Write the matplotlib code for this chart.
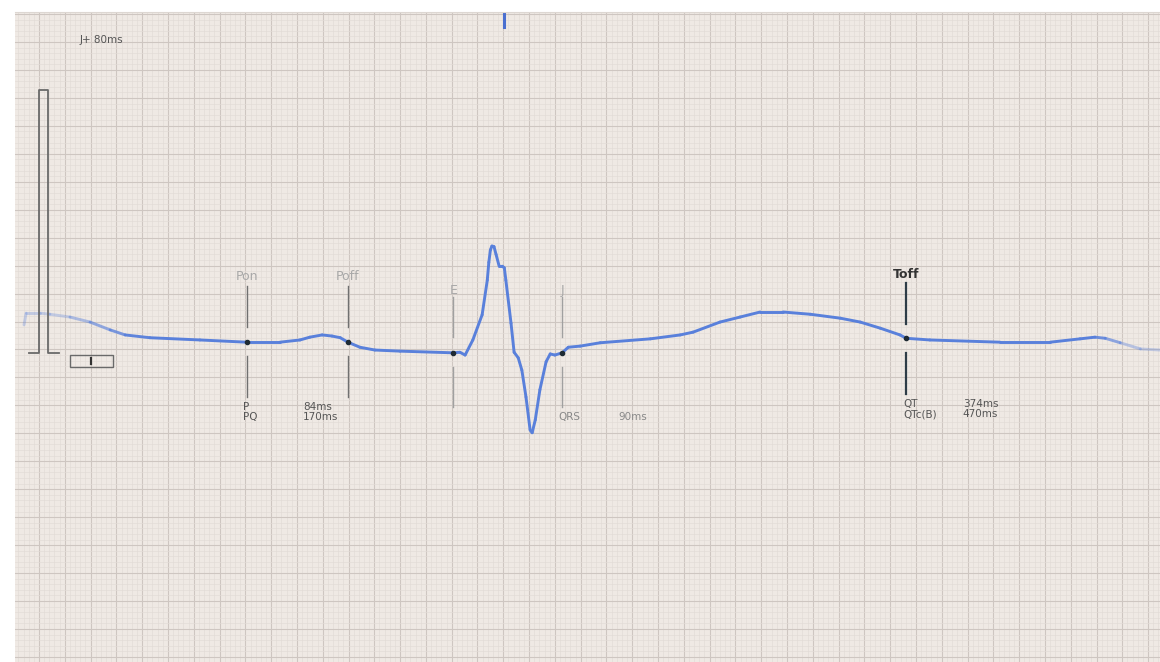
import numpy as np
import matplotlib
matplotlib.use('Agg')
import matplotlib.pyplot as plt
from matplotlib.collections import LineCollection
from matplotlib.ticker import MultipleLocator

plt.rcParams['font.family'] = ['DejaVu Sans']

# ECG trace in grid units (1 small box = 1 mm)
trace_x = [-2.9, -2.5, 0.2, 2.1, 6.0, 9.9, 13.8, 16.7, 21.5, 31.2, 40.3, 46.7, 50.6, 52.5,
           54.9, 56.8, 58.4, 59.9, 62.2, 65.1, 70.0, 80.3, 81.6, 82.6, 84.1, 85.9, 86.9,
           87.2, 87.5, 87.8, 88.2, 88.6, 89.2, 89.8, 90.2, 90.5, 91.5, 92.1, 92.9, 93.6,
           94.4, 95.2, 95.6, 96.2, 97.1, 98.3, 99.1, 100.0, 101.4, 102.6, 104.9, 108.8,
           118.5, 124.3, 126.8, 132.0, 135.9, 139.8, 144.2, 149.5, 155.3, 159.2, 163.1,
           166.9, 168.1, 172.7, 186.3, 196.0, 201.8, 204.7, 206.7, 209.6, 213.5, 217.3]
trace_y = [59.4, 61.5, 61.5, 61.3, 60.8, 59.9, 58.5, 57.6, 57.1, 56.7, 56.3, 56.3, 56.7, 57.2,
           57.6, 57.4, 57.1, 56.3, 55.4, 54.9, 54.7, 54.4, 54.5, 54.0, 56.7, 61.2, 67.4,
           70.6, 72.8, 73.5, 73.4, 72.0, 69.9, 69.9, 69.6, 67.4, 59.7, 54.5, 53.5, 51.3,
           46.5, 40.6, 40.1, 42.4, 47.8, 52.8, 54.2, 54.0, 54.4, 55.4, 55.6, 56.2,
           56.9, 57.6, 58.1, 59.9, 60.8, 61.7, 61.7, 61.3, 60.6, 59.9, 58.8,
           57.6, 57.0, 56.7, 56.3, 56.3, 56.9, 57.2, 57.0, 56.2, 55.1, 54.9]

# fiducial points
fid_names = ['Pon', 'Poff', 'E', 'J', 'Toff']
fid_x = [40.3, 59.9, 80.3, 101.4, 168.1]
fid_y = [56.3, 56.3, 54.4, 54.4, 57.0]

# measurements
meas_P = ['P', 'PQ']
meas_P_val = ['84ms', '170ms']
meas_QRS = ['QRS']
meas_QRS_val = ['90ms']
meas_QT = ['QT', 'QTc(B)']
meas_QT_val = ['374ms', '470ms']

# calibration pulse
cal_x = [-1.9, 0.0, 0.0, 1.74, 1.74, 3.9]
cal_y = [54.4, 54.4, 101.4, 101.4, 54.4, 54.4]

fig = plt.figure(figsize=(11.6, 6.62), dpi=100)
ax = fig.add_axes([15 / 1160, 0, 1 - 15 / 1160, 650 / 662])
ax.set_xlim(-4.65, 217.3)
ax.set_ylim(-0.91, 115.37)
ax.set_facecolor('#efe9e4')

# ecg paper grid
ax.xaxis.set_major_locator(MultipleLocator(5))
ax.xaxis.set_minor_locator(MultipleLocator(1))
ax.yaxis.set_major_locator(MultipleLocator(5))
ax.yaxis.set_minor_locator(MultipleLocator(1))
ax.grid(which='minor', color='#e2dbd6', lw=0.45)
ax.grid(which='major', color='#cec6c1', lw=0.8)
ax.set_axisbelow(True)
ax.tick_params(which='both', length=0, labelbottom=False, labelleft=False)
for s in ['left', 'right', 'bottom']:
    ax.spines[s].set_visible(False)
ax.spines['top'].set_color('#ddd7d2')

# trace, faded at both ends
x = np.array(trace_x)
y = np.array(trace_y)
pts = np.column_stack([x, y]).reshape(-1, 1, 2)
segs = np.concatenate([pts[:-1], pts[1:]], axis=1)
mid = (x[:-1] + x[1:]) / 2
alpha = np.clip(np.minimum((mid + 2) / 22, (216 - mid) / 12), 0.3, 1.0)
cols = [(0.35, 0.50, 0.86, a) for a in alpha]
lc = LineCollection(segs, colors=cols, linewidths=2.1, capstyle='round', joinstyle='round')
ax.add_collection(lc)

# fiducial markers
for name, fx, fy in zip(fid_names, fid_x, fid_y):
    if name in ('Pon', 'Poff'):
        lcol, tcol, lw, top, low, ty, fw = '#707070', '#a8a8a8', 1.0, (59.0, 66.3), (46.5, 53.8), 68.0, 'normal'
    elif name in ('E', 'J'):
        lcol, tcol, lw, top, low, ty, fw = '#a0a0a0', '#a8a8a8', 1.0, (57.2, 64.4), (44.7, 51.8), 65.6, 'normal'
    else:
        lcol, tcol, lw, top, low, ty, fw = '#2e3d48', '#333333', 1.6, (59.6, 66.9), (47.0, 54.4), 68.5, 'bold'
    ax.plot([fx, fx], top, color=lcol, lw=lw)
    ax.plot([fx, fx], low, color=lcol, lw=lw)
    ax.text(fx, ty, name, color=tcol, fontsize=9, ha='center', va='center', fontweight=fw)
    ax.plot(fx, fy, 'o', color='#1e2a33', ms=3)

# measurement texts
for i, (lab, val) in enumerate(zip(meas_P, meas_P_val)):
    ax.text(39.6, 44.7 - 1.8 * i, lab, fontsize=7.5, color='#555555', va='center')
    ax.text(51.2, 44.7 - 1.8 * i, val, fontsize=7.5, color='#555555', va='center')
for lab, val in zip(meas_QRS, meas_QRS_val):
    ax.text(100.6, 42.9, lab, fontsize=7.5, color='#888888', va='center')
    ax.text(112.4, 42.9, val, fontsize=7.5, color='#888888', va='center')
for i, (lab, val) in enumerate(zip(meas_QT, meas_QT_val)):
    ax.text(167.5, 45.2 - 1.8 * i, lab, fontsize=7.5, color='#555555', va='center')
    ax.text(179.1, 45.2 - 1.8 * i, val, fontsize=7.5, color='#555555', va='center')

ax.text(7.8, 110.4, 'J+ 80ms', fontsize=7.5, color='#555555', va='center')

# calibration pulse and small box
ax.plot(cal_x, cal_y, color='#6a6a6a', lw=1.3)
ax.add_patch(plt.Rectangle((6.0, 51.9), 8.3, 2.1, fill=False, ec='#6a6a6a', lw=1.0))
ax.plot([10.1, 10.1], [52.4, 53.5], color='#333333', lw=1.6)

# beat marker at top
ax.plot([90.2, 90.2], [112.7, 115.37], color='#4a6fd0', lw=2.2)

fig.savefig('out.png', dpi=100, facecolor='white')
